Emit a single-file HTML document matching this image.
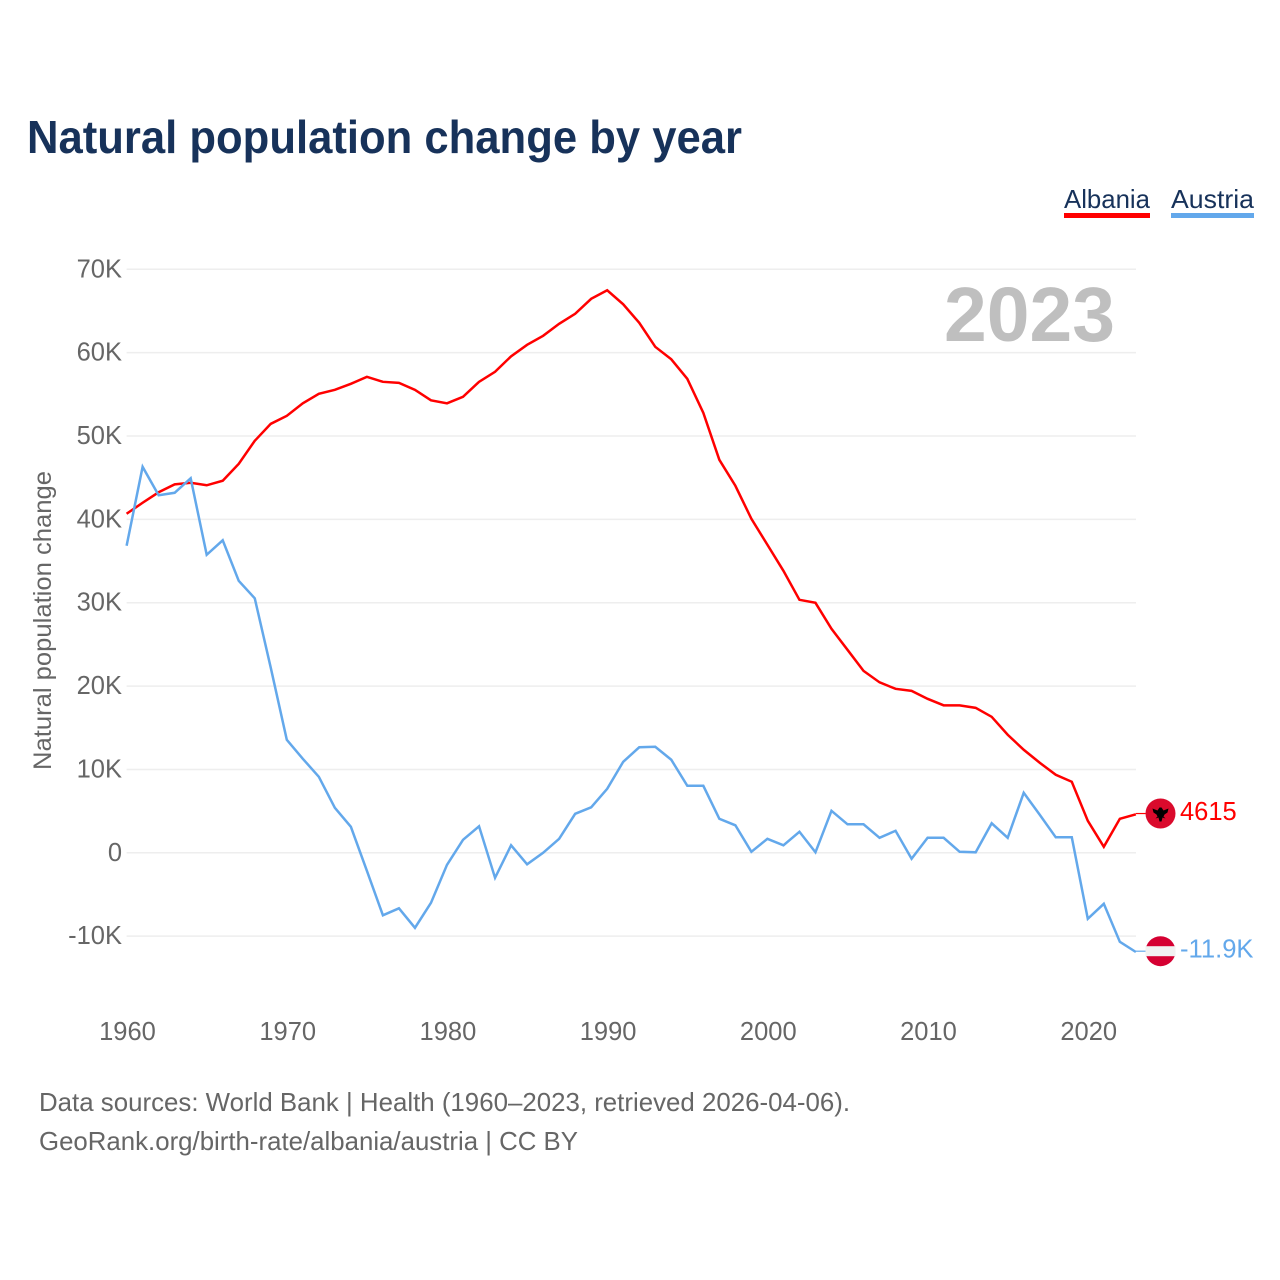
<!DOCTYPE html>
<html lang="en">
<head>
<meta charset="utf-8">
<title>Natural population change by year</title>
<style>
  html, body { margin: 0; padding: 0; background: #fff; }
  svg { display: block; font-family: "Liberation Sans", sans-serif; }
</style>
</head>
<body>
<svg id="chart" xmlns="http://www.w3.org/2000/svg" width="1280" height="1280" viewBox="0 0 1280 1280">
  <rect x="0" y="0" width="1280" height="1280" fill="#ffffff"/>
  <text x="27" y="153" font-size="46" font-weight="700" fill="#17325a" textLength="715" lengthAdjust="spacingAndGlyphs">Natural population change by year</text>

  <g>
    <g>
      <text x="1064" y="208" font-size="26" fill="#17325a" textLength="86" lengthAdjust="spacingAndGlyphs">Albania</text>
      <rect x="1064" y="213" width="86" height="5" fill="#ff0000"/>
    </g>
    <g>
      <text x="1171" y="208" font-size="26" fill="#17325a" textLength="83" lengthAdjust="spacingAndGlyphs">Austria</text>
      <rect x="1171" y="213" width="83" height="5" fill="#63a8eb"/>
    </g>
  </g>

  <g id="grid"></g>
  <g id="y-ticks"></g>
  <g id="x-ticks"></g>

  <text transform="translate(51 620.5) rotate(-90)" text-anchor="middle" font-size="25" fill="#666666" textLength="299" lengthAdjust="spacingAndGlyphs">Natural population change</text>

  <text x="944" y="341" font-size="77" font-weight="700" fill="#bfbfbf" textLength="171" lengthAdjust="spacingAndGlyphs">2023</text>

  <g id="series"></g>
  <g id="end-markers"></g>

  <text x="39" y="1111" font-size="26" fill="#666666" textLength="811" lengthAdjust="spacingAndGlyphs">Data sources: World Bank | Health (1960–2023, retrieved 2026-04-06).</text>
  <text x="39" y="1150" font-size="26" fill="#666666" textLength="539" lengthAdjust="spacingAndGlyphs">GeoRank.org/birth-rate/albania/austria | CC BY</text>
</svg>

<script>
// Chart data (values in thousands)
const years = [1960,1961,1962,1963,1964,1965,1966,1967,1968,1969,1970,1971,1972,1973,1974,1975,1976,1977,1978,1979,1980,1981,1982,1983,1984,1985,1986,1987,1988,1989,1990,1991,1992,1993,1994,1995,1996,1997,1998,1999,2000,2001,2002,2003,2004,2005,2006,2007,2008,2009,2010,2011,2012,2013,2014,2015,2016,2017,2018,2019,2020,2021,2022,2023];
const albaniaValues = [40.67,41.99,43.25,44.2,44.39,44.09,44.63,46.66,49.42,51.46,52.42,53.92,55.06,55.54,56.26,57.1,56.5,56.38,55.54,54.28,53.92,54.7,56.5,57.7,59.56,60.94,62.02,63.46,64.66,66.46,67.48,65.8,63.58,60.7,59.2,56.86,52.78,47.14,44.03,40.07,36.95,33.83,30.35,29.99,26.87,24.35,21.83,20.45,19.67,19.43,18.47,17.69,17.69,17.39,16.31,14.16,12.36,10.8,9.36,8.52,3.84,0.72,4.08,4.615];
const austriaValues = [36.83,46.3,42.89,43.19,44.93,35.75,37.49,32.63,30.53,22.19,13.56,11.28,9.12,5.4,3.12,-2.16,-7.5,-6.66,-9.0,-6.0,-1.44,1.56,3.18,-3.0,0.9,-1.38,0,1.68,4.68,5.46,7.68,10.92,12.66,12.72,11.16,8.04,8.04,4.08,3.3,0.12,1.68,0.9,2.52,0.06,5.04,3.42,3.42,1.8,2.64,-0.72,1.8,1.8,0.12,0.06,3.54,1.8,7.2,4.56,1.86,1.86,-7.92,-6.12,-10.68,-11.9];
const yTickValues = [70,60,50,40,30,20,10,0,-10];
const xTickYears = [1960,1970,1980,1990,2000,2010,2020];

const SVG_NS = 'http://www.w3.org/2000/svg';
const xLeft = 126.6, xPerYear = 16.02, yZero = 852.8, yPerK = 8.336;
const gridRight = 1136;

function xScale(year) { return xLeft + (year - 1960) * xPerYear; }
function yScale(v) { return yZero - v * yPerK; }
function tickLabel(v) { return v === 0 ? '0' : v + 'K'; }
function endLabel(v) {
  return Math.abs(v) >= 10 ? v.toFixed(1) + 'K' : String(Math.round(v * 1000));
}
function make(tag, attrs, parent) {
  const el = document.createElementNS(SVG_NS, tag);
  for (const k in attrs) el.setAttribute(k, attrs[k]);
  parent.appendChild(el);
  return el;
}

const gridGroup = document.getElementById('grid');
const yTickGroup = document.getElementById('y-ticks');
yTickValues.forEach(function (v) {
  const line = make('line', { x1: xLeft, x2: gridRight, y1: yScale(v), y2: yScale(v), stroke: '#eeeeee', 'stroke-width': 1.5 }, gridGroup);
  
  
  const label = make('text', { x: 122, y: yScale(v) + 8, 'text-anchor': 'end', 'font-size': 25.5, fill: '#666666' }, yTickGroup);
  
  
  label.textContent = tickLabel(v);
});

const xTickGroup = document.getElementById('x-ticks');
xTickYears.forEach(function (yr) {
  const label = make('text', { x: xScale(yr) + 0.9, y: 1040, 'text-anchor': 'middle', 'font-size': 25.5, fill: '#666666' }, xTickGroup);
  
  
  label.textContent = String(yr);
});

function pathFor(values) {
  return values.map(function (v, i) {
    return (i ? 'L' : 'M') + xScale(years[i]).toFixed(2) + ' ' + yScale(v).toFixed(2);
  }).join(' ');
}

const seriesGroup = document.getElementById('series');
const albaniaLine = make('path', { d: pathFor(albaniaValues), fill: 'none', stroke: '#ff0000', 'stroke-width': 2.5, 'stroke-linejoin': 'miter' }, seriesGroup);


const austriaLine = make('path', { d: pathFor(austriaValues), fill: 'none', stroke: '#63a8eb', 'stroke-width': 2.5, 'stroke-linejoin': 'miter' }, seriesGroup);



const markerGroup = document.getElementById('end-markers');
const flagX = 1160.5;

// Albania end marker
const albaniaEnd = albaniaValues[albaniaValues.length - 1];
const albaniaY = yScale(albaniaEnd) - 0.8;
const albaniaLead = make('line', { x1: xScale(2023), x2: flagX - 15, y1: albaniaY, y2: albaniaY, stroke: '#ff0000', 'stroke-width': 1.2 }, markerGroup);


const albaniaFlag = make('g', { transform: 'translate(' + flagX + ' ' + albaniaY + ')' }, markerGroup);


make('circle', { cx: 0, cy: 0, r: 15, fill: '#da0a2c' }, albaniaFlag);
make('path', { d: 'M-8 -5 L-3 -3 L-1 -6 L1 -6 L3 -3 L8 -5 L7 -1 L4 1 L3 3 L5 5 L2 4 L1 8 L-1 8 L-2 4 L-5 5 L-3 3 L-4 1 L-7 -1 Z', fill: '#000000' }, albaniaFlag);
const albaniaText = make('text', { x: 1180, y: albaniaY + 6.5, 'font-size': 25.5, fill: '#ff0000' }, markerGroup);


albaniaText.textContent = endLabel(albaniaEnd);

// Austria end marker
const austriaEnd = austriaValues[austriaValues.length - 1];
const austriaY = yScale(austriaEnd) - 0.8;
const austriaLead = make('line', { x1: xScale(2023), x2: flagX - 15, y1: austriaY, y2: austriaY, stroke: '#63a8eb', 'stroke-width': 1.2 }, markerGroup);


const austriaFlag = make('g', { transform: 'translate(' + flagX + ' ' + austriaY + ')' }, markerGroup);


make('circle', { cx: 0, cy: 0, r: 15, fill: '#d50032' }, austriaFlag);
make('rect', { x: -15, y: -5, width: 30, height: 10, fill: '#f1f1f1' }, austriaFlag);
const austriaText = make('text', { x: 1180, y: austriaY + 6.5, 'font-size': 25.6, fill: '#63a8eb' }, markerGroup);


austriaText.textContent = endLabel(austriaEnd);
</script>
</body>
</html>
